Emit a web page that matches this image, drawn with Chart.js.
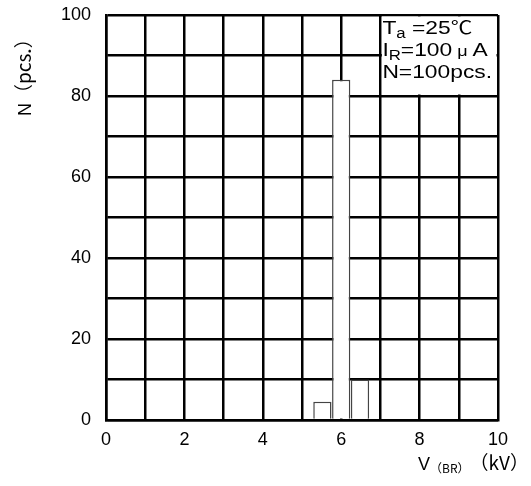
<!DOCTYPE html>
<html>
<head>
<meta charset="utf-8">
<script src="https://cdn.jsdelivr.net/npm/chart.js@4.4.1/dist/chart.umd.min.js"></script>
<style>
  html, body { margin: 0; padding: 0; background: #fff; }
  #wrap { width: 531px; height: 486px; }
</style>
</head>
<body>
<div id="wrap"><canvas id="histChart"></canvas></div>
<script>
// breakdown voltage histogram
const voltages = [5.52, 6.0, 6.48];   // bin centres, kV
const counts = [4.5, 84, 10];         // pcs.
const xTicks = [0, 2, 4, 6, 8, 10];
const yTicks = [0, 20, 40, 60, 80, 100];
const noteLines = ['Ta =25℃', 'IR=100μA', 'N=100pcs.'];

const SANS = '"Liberation Sans", Arial, sans-serif';
const CJK = '"Noto Sans CJK JP", "Noto Sans CJK SC", sans-serif';

Chart.defaults.font.family = SANS;
Chart.defaults.font.size = 18;
Chart.defaults.color = '#000';

// draw a run of [text, font, dy] pieces from x
function drawRuns(ctx, x, y, runs, sx) {
    ctx.save();
    ctx.translate(x, y);
    ctx.scale(sx, 1);
    let cx = 0;
    runs.forEach(([txt, font, dy]) => {
        ctx.font = font;
        ctx.fillText(txt, cx, dy || 0);
        cx += ctx.measureText(txt).width;
    });
    ctx.restore();
}

const notesPlugin = {
    id: 'notes',
    beforeDatasetsDraw(chart) {
        const ctx = chart.ctx;
        const xs = chart.scales.x, ys = chart.scales.y;
        const left = xs.getPixelForValue(7), right = xs.getPixelForValue(10);
        const top = ys.getPixelForValue(100), bottom = ys.getPixelForValue(80);
        ctx.save();
        ctx.fillStyle = '#fff';
        ctx.fillRect(left + 1.5, top + 1.5, right - left - 3, bottom - top - 3);
        ctx.fillStyle = '#000';
        ctx.textBaseline = 'alphabetic';
        ctx.textAlign = 'left';
        const f = '19px ' + SANS, fs = '14px ' + SANS;
        const [l1, l2, l3] = noteLines;
        drawRuns(ctx, left + 2, top + 19, [[l1[0], f], [l1[1], fs, 4], [l1.slice(2, 6), f], [l1.slice(6), '18px ' + CJK]], 1.2);
        drawRuns(ctx, left + 2, top + 41, [[l2[0], f], [l2[1], fs, 4], [l2.slice(2, 6), f], [' ' + l2[6] + ' ', '15px ' + SANS], [l2[7], f]], 1.2);
        drawRuns(ctx, left + 2, top + 63, [[l3, f]], 1.2);
        ctx.restore();
    },
    afterDraw(chart) {
        const ctx = chart.ctx;
        ctx.save();
        ctx.fillStyle = '#000';
        ctx.textBaseline = 'alphabetic';
        // y axis title
        ctx.save();
        ctx.translate(31, 116);
        ctx.rotate(-Math.PI / 2);
        drawRuns(ctx, 0, 0, [['N', '18px ' + SANS], ['（pcs.）', '19px ' + CJK]], 1);
        ctx.restore();
        // x axis title
        drawRuns(ctx, 418, 470, [['V', '18px ' + SANS], ['（BR）', '12px ' + CJK, 3], ['（kV）', '19px ' + CJK]], 1);
        ctx.restore();
    }
};

new Chart(document.getElementById('histChart'), {
    type: 'bar',
    data: {
        datasets: [{
            data: voltages.map((v, i) => ({ x: v, y: counts[i] })),
            backgroundColor: '#fff',
            borderColor: '#444',
            borderWidth: 1.5,
            barPercentage: 0.97,
            categoryPercentage: 1
        }]
    },
    options: {
        responsive: true,
        maintainAspectRatio: false,
        animation: false,
        layout: { padding: { top: 0, right: 33, left: 0, bottom: 0 } },
        plugins: { legend: { display: false }, tooltip: { enabled: false } },
        scales: {
            x: {
                type: 'linear',
                min: 0,
                max: 10,
                offset: false,
                afterFit(s) { s.height = 66; },
                ticks: {
                    stepSize: 1,
                    padding: 9,
                    maxRotation: 0,
                    callback: v => xTicks.includes(v) ? String(v) : ''
                },
                grid: { color: '#000', lineWidth: 2.5, drawTicks: false, offset: false },
                border: { color: '#000', width: 2.5 }
            },
            y: {
                min: 0,
                max: 100,
                afterFit(s) { s.width = 106; s.paddingTop = 15; s.paddingBottom = 0; },
                ticks: {
                    stepSize: 10,
                    padding: 15,
                    callback: v => yTicks.includes(v) ? String(v) : ''
                },
                grid: { color: '#000', lineWidth: 2.5, drawTicks: false },
                border: { color: '#000', width: 2.5 }
            }
        }
    },
    plugins: [notesPlugin]
});
</script>
</body>
</html>
